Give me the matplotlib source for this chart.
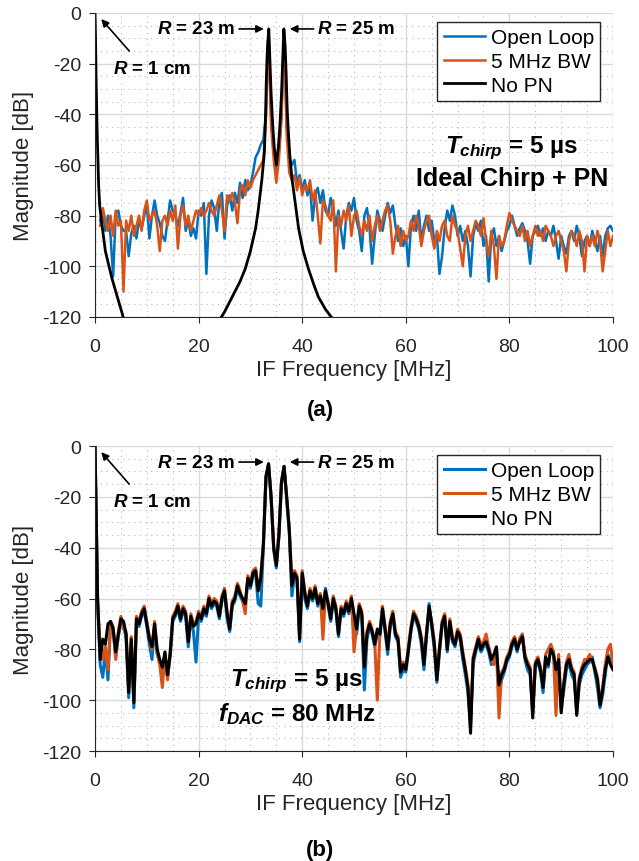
import numpy as np
import matplotlib
matplotlib.use("Agg")
import matplotlib.pyplot as plt
from matplotlib.ticker import MultipleLocator

plt.rcParams['font.family'] = ['Liberation Sans', 'DejaVu Sans']
plt.rcParams['axes.unicode_minus'] = False
plt.rcParams['mathtext.fontset'] = 'custom'
plt.rcParams['mathtext.it'] = 'Liberation Sans:bold:italic'
plt.rcParams['mathtext.rm'] = 'Liberation Sans:bold'

BLUE = '#0072BD'
ORANGE = '#D95319'

# ---- (a) ideal chirp + PN (0.5 MHz steps from 1 MHz)
freq_a = np.arange(1.0, 100.01, 0.5)
open_loop_a = [
    -82, -78, -86, -80, -88, -104, -79, -78, -84, -86,
    -86, -96, -87, -84, -89, -82, -85, -80, -76, -89,
    -80, -74, -80, -83, -88, -90, -82, -74, -78, -80,
    -84, -79, -73, -86, -82, -88, -85, -89, -78, -80,
    -75, -103, -80, -74, -77, -86, -74, -71, -89, -76,
    -72, -78, -71, -75, -67, -73, -66, -70, -68, -63,
    -57, -55, -52, -50, -40, -7, -42, -55, -62, -55,
    -40, -7, -45, -57, -60, -58, -67, -64, -70, -66,
    -72, -68, -82, -72, -69, -75, -70, -78, -80, -73,
    -77, -84, -78, -86, -93, -80, -75, -78, -73, -82,
    -86, -94, -80, -77, -85, -99, -88, -78, -82, -86,
    -80, -75, -79, -76, -84, -90, -85, -92, -88, -100,
    -84, -80, -86, -78, -90, -84, -80, -86, -82, -90,
    -88, -103, -96, -85, -78, -82, -76, -80, -88, -84,
    -90, -86, -92, -104, -88, -83, -86, -82, -92, -88,
    -106, -88, -85, -92, -88, -94, -90, -86, -84, -80,
    -84, -88, -85, -83, -86, -90, -99, -88, -86, -84,
    -88, -85, -90, -86, -88, -84, -90, -97, -88, -92,
    -95, -88, -86, -90, -84, -88, -96, -90, -88, -92,
    -86, -90, -94, -88, -96, -88, -85, -84, -86]
bw5_a = [
    -84, -77, -82, -86, -80, -88, -78, -84, -82, -110,
    -82, -86, -80, -88, -84, -80, -86, -78, -74, -82,
    -80, -78, -84, -94, -82, -80, -84, -78, -82, -76,
    -93, -80, -76, -84, -80, -86, -82, -78, -80, -77,
    -80, -78, -75, -78, -80, -76, -72, -78, -86, -72,
    -74, -71, -75, -83, -70, -68, -72, -66, -69, -66,
    -64, -62, -60, -58, -42, -7, -45, -58, -67, -58,
    -42, -7, -48, -63, -66, -64, -70, -65, -72, -68,
    -70, -66, -74, -70, -80, -91, -74, -76, -80, -82,
    -74, -102, -80, -84, -78, -82, -76, -88, -80, -78,
    -84, -88, -82, -86, -80, -90, -84, -80, -86, -82,
    -78, -76, -82, -95, -88, -84, -92, -86, -90, -88,
    -82, -86, -80, -84, -92, -86, -82, -80, -88, -93,
    -86, -90, -84, -82, -88, -90, -80, -84, -86, -93,
    -100, -88, -84, -90, -86, -82, -84, -88, -81, -90,
    -96, -86, -92, -105, -88, -92, -90, -84, -79, -82,
    -84, -86, -88, -84, -90, -86, -92, -88, -84, -88,
    -86, -90, -84, -86, -88, -92, -88, -86, -90, -94,
    -102, -90, -86, -88, -92, -86, -90, -102, -88, -92,
    -88, -92, -86, -90, -102, -94, -86, -92, -88]
nopn_freq_a = [0, 0.1, 0.2, 0.4, 0.7, 0.9, 1.3, 2.0, 2.7, 3.3, 4.3, 5.3, 5.8, np.nan,
               24.0, 24.4, 25.0, 26.0, 27.0, 28.0, 29.0, 30.0, 31.0, 31.5, 32.2, 32.7,
               32.9, 33.1, 33.3, 33.55, 33.7, 34.0, 34.3, 34.6, 35.0, 35.4, 35.7, 36.0,
               36.3, 36.45, 36.7, 36.9, 37.1, 37.3, 37.6, 38.0, 39.3, 40.2, 41.2, 42.2,
               43.1, 44.5, 45.8, 46.5]
nopn_a = [0, -10, -25, -46, -68, -76, -83, -94, -100, -105, -112, -119, -123, np.nan,
          -122, -120, -118, -114, -110, -106, -101, -94, -85, -78, -66, -55,
          -42, -24, -13, -6.3, -15, -32, -44, -53, -60, -53, -44, -32,
          -15, -6.3, -13, -24, -38, -46, -56, -65, -85, -94, -101, -107,
          -112, -117, -120.5, -123]

# ---- (b) f_DAC = 80 MHz (0.5 MHz steps from 0 MHz)
freq_b = np.arange(0.0, 100.01, 0.5)
nopn_b = [
    0, -60, -84, -76, -78, -70, -69, -72, -81, -74,
    -68, -69, -74, -97, -76, -101, -68, -70, -66, -64,
    -70, -76, -79, -70, -80, -84, -87, -81, -90, -82,
    -68, -66, -63, -68, -64, -66, -77, -67, -71, -70,
    -66, -68, -64, -66, -60, -63, -61, -62, -67, -60,
    -57, -66, -72, -62, -60, -55, -58, -60, -62, -52,
    -55, -50, -49, -57, -52, -39, -12, -7, -20, -40,
    -47, -35, -14, -8, -20, -33, -55, -50, -52, -76,
    -50, -58, -63, -57, -60, -56, -62, -59, -64, -57,
    -62, -68, -60, -64, -74, -64, -66, -62, -65, -60,
    -66, -72, -63, -66, -87, -74, -70, -73, -78, -72,
    -74, -64, -72, -80, -70, -66, -74, -76, -89, -86,
    -88, -80, -72, -66, -68, -71, -76, -86, -74, -63,
    -70, -78, -92, -80, -70, -67, -80, -69, -76, -78,
    -73, -75, -82, -88, -95, -113, -84, -80, -76, -80,
    -78, -77, -80, -84, -82, -79, -94, -90, -88, -84,
    -82, -78, -76, -80, -77, -75, -83, -86, -88, -107,
    -86, -84, -88, -95, -83, -86, -80, -82, -88, -84,
    -105, -94, -86, -84, -88, -90, -106, -92, -88, -86,
    -85, -84, -84, -88, -92, -102, -96, -88, -83, -86,
    -88]
open_loop_b = [
    0, -62, -86, -91, -80, -92, -70, -73, -83, -75,
    -69, -70, -76, -99, -77, -103, -69, -71, -67, -65,
    -71, -78, -84, -71, -82, -85, -89, -82, -91, -83,
    -69, -67, -64, -69, -65, -67, -79, -68, -73, -85,
    -67, -69, -65, -67, -61, -64, -62, -63, -68, -61,
    -58, -68, -73, -63, -61, -56, -59, -61, -63, -53,
    -56, -51, -50, -62, -63, -40, -13, -7, -21, -41,
    -48, -36, -15, -8, -21, -34, -59, -51, -53, -77,
    -51, -60, -64, -58, -61, -57, -63, -60, -62, -56,
    -63, -69, -61, -65, -75, -65, -67, -63, -66, -61,
    -67, -74, -64, -67, -96, -76, -71, -74, -79, -74,
    -75, -65, -73, -82, -71, -67, -75, -77, -91, -88,
    -89, -81, -73, -67, -69, -72, -78, -88, -75, -62,
    -71, -80, -93, -81, -71, -68, -81, -70, -77, -79,
    -74, -76, -84, -90, -97, -110, -86, -81, -77, -81,
    -79, -78, -81, -86, -83, -80, -96, -92, -89, -85,
    -83, -79, -77, -81, -76, -74, -84, -88, -90, -104,
    -87, -85, -89, -97, -84, -87, -79, -81, -90, -86,
    -103, -96, -88, -85, -90, -92, -104, -94, -90, -88,
    -86, -85, -83, -89, -95, -103, -98, -90, -82, -84,
    -86]
bw5_b = [
    0, -61, -82, -84, -79, -88, -69, -71, -84, -73,
    -67, -72, -73, -95, -75, -99, -67, -69, -65, -63,
    -69, -75, -80, -69, -81, -86, -95, -82, -92, -81,
    -67, -65, -62, -67, -63, -65, -76, -66, -70, -69,
    -65, -67, -63, -65, -59, -62, -60, -61, -66, -59,
    -56, -65, -71, -61, -59, -54, -57, -61, -66, -51,
    -54, -49, -48, -56, -51, -38, -12, -7, -20, -40,
    -46, -34, -14, -8, -20, -32, -53, -49, -51, -74,
    -49, -57, -62, -56, -59, -55, -61, -58, -76, -58,
    -61, -67, -59, -63, -73, -63, -65, -61, -64, -59,
    -81, -71, -62, -65, -85, -73, -69, -72, -77, -100,
    -73, -63, -71, -79, -69, -65, -73, -75, -87, -85,
    -87, -79, -71, -65, -67, -70, -75, -85, -73, -64,
    -69, -77, -91, -79, -69, -66, -79, -68, -75, -77,
    -72, -74, -81, -87, -94, -108, -83, -79, -75, -78,
    -77, -74, -79, -83, -86, -80, -107, -89, -87, -83,
    -81, -77, -75, -79, -76, -74, -82, -85, -87, -105,
    -85, -83, -87, -94, -82, -80, -78, -81, -106, -82,
    -104, -93, -85, -82, -87, -89, -105, -91, -87, -84,
    -84, -82, -85, -87, -91, -101, -95, -86, -80, -78,
    -86]


def style_axes(ax):
    ax.set_xlim(0, 100)
    ax.set_ylim(-120, 0)
    ax.xaxis.set_major_locator(MultipleLocator(20))
    ax.xaxis.set_minor_locator(MultipleLocator(5))
    ax.yaxis.set_major_locator(MultipleLocator(20))
    ax.yaxis.set_minor_locator(MultipleLocator(5))
    ax.grid(which='major', color='#dadada', lw=1.0)
    ax.grid(which='minor', color='#b8b8b8', lw=0.8, ls=(0, (1, 4)))
    ax.set_axisbelow(True)
    for s in ['top', 'right']:
        ax.spines[s].set_visible(False)
    for s in ['left', 'bottom']:
        ax.spines[s].set_color('#262626')
    ax.tick_params(which='major', direction='out', length=4, labelsize=14,
                   colors='#262626')
    ax.tick_params(axis='x', which='major', pad=11)
    ax.tick_params(axis='y', which='major', pad=6)
    ax.tick_params(which='minor', length=0)
    ax.set_xlabel('IF Frequency [MHz]', fontsize=16, color='#262626', labelpad=3)
    ax.set_ylabel('Magnitude [dB]', fontsize=16, color='#262626', labelpad=6)
    leg = ax.legend(loc='upper right', bbox_to_anchor=(0.975, 0.97),
                    borderaxespad=0, fontsize=15, handlelength=2.0,
                    handletextpad=0.25, labelspacing=0.22, borderpad=0.3,
                    fancybox=False, framealpha=1)
    leg.get_frame().set_edgecolor('#262626')
    leg.get_frame().set_linewidth(1.0)


def arrow(ax, head, tail):
    ax.annotate('', xy=head, xytext=tail,
                arrowprops=dict(arrowstyle='-|>', color='k', lw=1.2,
                                mutation_scale=11, shrinkA=0, shrinkB=0))


def range_labels(ax):
    ax.text(3.5, -22, r'$R$ = 1 cm', fontsize=13.5, fontweight='bold',
            va='center', ha='left')
    arrow(ax, (1.2, -2.4), (6.6, -15))
    ax.text(19.5, -6.3, r'$R$ = 23 m', fontsize=13.5, fontweight='bold',
            va='center', ha='center')
    arrow(ax, (32.6, -6.3), (27.8, -6.3))
    ax.text(50.5, -6.3, r'$R$ = 25 m', fontsize=13.5, fontweight='bold',
            va='center', ha='center')
    arrow(ax, (37.6, -6.3), (42.2, -6.3))


fig = plt.figure(figsize=(6.39, 8.62), dpi=100)
ax1 = fig.add_axes([0.1487, 0.6311, 0.8106, 0.3527])
ax2 = fig.add_axes([0.1487, 0.1276, 0.8106, 0.3538])

ax1.plot(freq_a, open_loop_a, color=BLUE, lw=1.8, label='Open Loop')
ax1.plot(freq_a, bw5_a, color=ORANGE, lw=1.8, label='5 MHz BW')
ax1.plot(nopn_freq_a, nopn_a, color='k', lw=2.0, label='No PN')
style_axes(ax1)
range_labels(ax1)
ax1.text(80.5, -53, r'$T_{chirp}$ = 5 µs', fontsize=17.5, fontweight='bold',
         ha='center', va='center')
ax1.text(80.5, -65, 'Ideal Chirp + PN', fontsize=18, fontweight='bold',
         ha='center', va='center')

ax2.plot(freq_b, open_loop_b, color=BLUE, lw=2.2, label='Open Loop')
ax2.plot(freq_b, bw5_b, color=ORANGE, lw=2.2, label='5 MHz BW')
ax2.plot(freq_b, nopn_b, color='k', lw=2.2, label='No PN')
style_axes(ax2)
range_labels(ax2)
ax2.text(39, -92, r'$T_{chirp}$ = 5 µs', fontsize=17.5, fontweight='bold',
         ha='center', va='center')
ax2.text(39, -105, r'$f_{DAC}$ = 80 MHz', fontsize=17.5, fontweight='bold',
         ha='center', va='center')

fig.text(0.5008, 0.524, '(a)', fontsize=16, fontweight='bold',
         ha='center', va='center')
fig.text(0.5008, 0.013, '(b)', fontsize=16, fontweight='bold',
         ha='center', va='center')

fig.savefig('out.png', dpi=100)
